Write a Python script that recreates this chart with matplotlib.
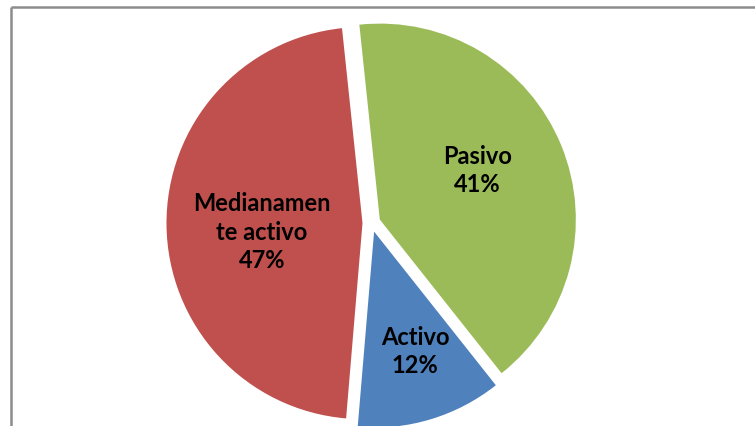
import matplotlib.pyplot as plt
import numpy as np

labels = ['Pasivo', 'Activo', 'Medianamen\nte activo']
shares = [41, 12, 47]
colors = ['#9BBB59', '#4F81BD', '#C0504D']

# label placement tweaks: fraction of radius from the slice apex, angle nudge (deg)
label_dist = [0.56, 0.641, 0.514]
label_nudge = [5, 2.2, 4]


def main():
    fig = plt.figure(figsize=(7.55, 4.27), dpi=100)
    ax = fig.add_axes([0, 0, 1, 1])

    R = 196
    cx, cy = 371.5, 203
    gap = 9  # explode offset in pixels

    wedges, _ = ax.pie(shares, colors=colors, startangle=96, counterclock=False,
                       explode=[gap] * len(shares), radius=R, center=(cx, cy),
                       frame=True, wedgeprops=dict(linewidth=0))
    ax.set_xlim(0, 755)
    ax.set_ylim(0, 427)
    ax.set_aspect('auto')
    ax.axis('off')

    for w, lab, s, d, nud in zip(wedges, labels, shares, label_dist, label_nudge):
        mid = np.deg2rad((w.theta1 + w.theta2) / 2)
        ox, oy = w.center
        ang = mid + np.deg2rad(nud)
        x = ox + d * R * np.cos(ang)
        y = oy + d * R * np.sin(ang)
        ax.text(x, y, '%s\n%d%%' % (lab, s), ha='center', va='center',
                fontsize=17, fontweight='bold', family=['Lato', 'DejaVu Sans'],
                linespacing=1.3, color='black')

    # chart area border (only left and top visible)
    ax.plot([10.5, 10.5], [0, 419], color='#8c8c8c', lw=1.8, solid_capstyle='butt')
    ax.plot([10.5, 755], [419, 419], color='#8c8c8c', lw=1.8, solid_capstyle='butt')

    fig.savefig('out.png', dpi=100)


if __name__ == "__main__":
    main()
